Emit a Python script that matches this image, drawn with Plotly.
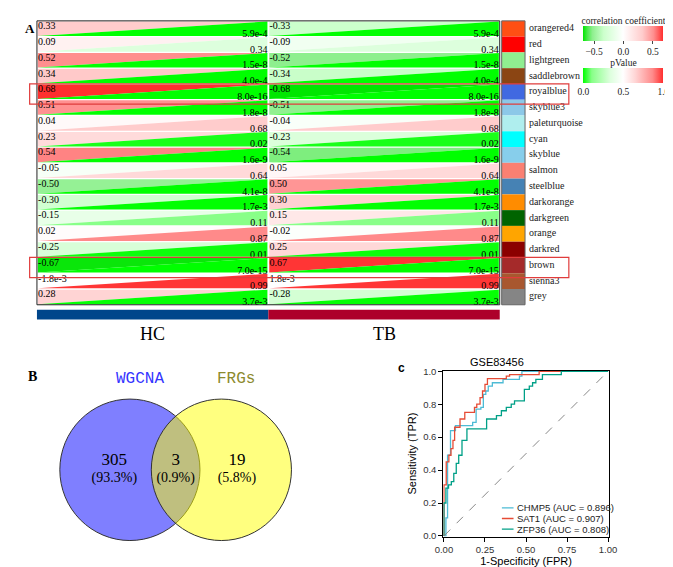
import plotly.graph_objects as go

W, H = 673, 567
SERIF = "Liberation Serif"
SANS = "Liberation Sans"
MONO = "Liberation Mono"

# ---- panel A: module / trait correlation ----
modules = ["orangered4", "red", "lightgreen", "saddlebrown", "royalblue", "skyblue3",
           "paleturquoise", "cyan", "skyblue", "salmon", "steelblue", "darkorange",
           "darkgreen", "orange", "darkred", "brown", "sienna3", "grey"]
module_colors = ["#ff4f14", "#ff0000", "#90ee90", "#8b4513", "#4169e1", "#8cc8e8",
                 "#afeeee", "#00ffff", "#87ceeb", "#fa8072", "#4682b4", "#ff8c00",
                 "#006400", "#ffa500", "#8b0000", "#a52a2a", "#a8572f", "#858585"]
groups = ["HC", "TB"]
group_colors = ["#00468b", "#ad002a"]
cor_hc = [0.33, 0.09, 0.52, 0.34, 0.68, 0.51, 0.04, 0.23, 0.54, -0.05, -0.50, -0.30,
          -0.15, 0.02, -0.25, -0.67, -1.8e-3, 0.28]
cor_tb = [-0.33, -0.09, -0.52, -0.34, -0.68, -0.51, -0.04, -0.23, -0.54, 0.05, 0.50, 0.30,
          0.15, -0.02, 0.25, 0.67, 1.8e-3, -0.28]
p_values = [5.9e-4, 0.34, 1.5e-8, 4.0e-4, 8.0e-16, 1.8e-8, 0.68, 0.02, 1.6e-9, 0.64,
            4.1e-8, 1.7e-3, 0.11, 0.87, 0.01, 7.0e-15, 0.99, 3.7e-3]
highlight = ["royalblue", "brown"]

# ---- panel B: venn ----
venn_sets = ["WGCNA", "FRGs"]
venn_set_colors = ["#3434ff", "#8c8a2e"]
venn_counts = [305, 3, 19]  # WGCNA only, shared, FRGs only

# ---- panel C: ROC ----
roc_names = ["CHMP5", "SAT1", "ZFP36"]
roc_auc = [0.896, 0.907, 0.808]
roc_colors = ["#4dbbd5", "#e64b35", "#00a087"]
chmp5_fpr = [0, 0.012, 0.022, 0.04, 0.07, 0.175, 0.196, 0.225, 0.24, 0.255, 0.27, 0.295,
             0.36, 0.46, 0.475, 1]
chmp5_tpr = [0, 0.11, 0.49, 0.64, 0.67, 0.69, 0.77, 0.78, 0.86, 0.88, 0.91, 0.93,
             0.95, 0.97, 1.0, 1.0]
sat1_fpr = [0, 0, 0.014, 0.03, 0.043, 0.055, 0.065, 0.098, 0.127, 0.186, 0.2, 0.22,
            0.235, 0.25, 0.265, 0.38, 0.4, 0.58, 1]
sat1_tpr = [0, 0.31, 0.45, 0.49, 0.53, 0.58, 0.66, 0.71, 0.75, 0.78, 0.8, 0.84,
            0.88, 0.92, 0.955, 0.97, 0.98, 1.0, 1.0]
zfp36_fpr = [0, 0, 0.012, 0.028, 0.045, 0.06, 0.075, 0.09, 0.11, 0.14, 0.26, 0.32, 0.35,
             0.38, 0.41, 0.43, 0.49, 0.52, 0.54, 0.56, 0.6, 0.715, 1]
zfp36_tpr = [0, 0.2, 0.29, 0.31, 0.33, 0.38, 0.44, 0.49, 0.58, 0.65, 0.71, 0.73, 0.76,
             0.78, 0.8, 0.82, 0.89, 0.91, 0.93, 0.95, 0.98, 1.0, 1.0]
roc_fpr = [chmp5_fpr, sat1_fpr, zfp36_fpr]
roc_tpr = [chmp5_tpr, sat1_tpr, zfp36_tpr]

# colour ramps (green - white - red)
CMIN, CMAX = -0.68, 0.68
cor_stops = [(-0.68, "#00e600"), (-0.6, "#50ea50"), (-0.52, "#8eef8e"), (-0.33, "#ccffcc"),
             (0, "#ffffff"), (0.33, "#ffcccc"), (0.52, "#ff8e8e"), (0.6, "#ff6060"),
             (0.68, "#ff2f2f")]
cor_scale = [[(v - CMIN) / (CMAX - CMIN), c] for v, c in cor_stops]
p_scale = [[0, "#00ff00"], [0.11, "#88ff88"], [0.34, "#ddffdd"], [0.5, "#ffffff"],
           [0.65, "#ffd6d6"], [0.87, "#ff8a8a"], [1.0, "#ff2f2f"]]


def px(x):
    return x / W


def py(y):
    return 1 - y / H


def hex_rgb(h):
    return tuple(int(h[k:k + 2], 16) for k in (1, 3, 5))


def ramp(scale, t):
    t = min(max(t, 0), 1)
    for (t0, c0), (t1, c1) in zip(scale[:-1], scale[1:]):
        if t <= t1:
            f = 0 if t1 == t0 else (t - t0) / (t1 - t0)
            a, b = hex_rgb(c0), hex_rgb(c1)
            return "rgb(%d,%d,%d)" % tuple(round(a[k] + f * (b[k] - a[k])) for k in range(3))
    return scale[-1][1]


def fmt_num(v):
    if v != 0 and abs(v) < 0.01:
        m, e = f"{v:.1e}".split("e")
        return f"{m}e{int(e)}"
    return f"{v:.2f}"


# panel A pixel geometry: one group column = 237.75 px, one row = 16.056 px
COLW, ROWH, X0, Y0 = 237.75, 16.056, 20.5, 8
n = len(modules)

fig = go.Figure()

gx, gy = 0.004, 0.04
for j, cors in enumerate([cor_hc, cor_tb]):
    for i, (r, p) in enumerate(zip(cors, p_values)):
        x0, x1 = j + gx, j + 1 - gx
        y0, y1 = i + gy, i + 1 - gy
        fig.add_trace(go.Scatter(x=[x0, x1, x0, x0], y=[y0, y0, y1, y0], mode="lines",
                                 fill="toself", fillcolor=ramp(cor_scale, (r - CMIN) / (CMAX - CMIN)),
                                 line=dict(width=0), hoverinfo="skip", showlegend=False))
        fig.add_trace(go.Scatter(x=[x0, x1, x1, x0], y=[y1, y0, y1, y1], mode="lines",
                                 fill="toself", fillcolor=ramp(p_scale, p),
                                 line=dict(width=0), hoverinfo="skip", showlegend=False))
    fig.add_trace(go.Scatter(x=[j + 0.005] * n, y=[i + 0.37 for i in range(n)],
                             text=[fmt_num(v) for v in cors], mode="text",
                             textposition="middle right",
                             textfont=dict(family=SERIF, size=10, color="black"),
                             hoverinfo="skip", showlegend=False))
    fig.add_trace(go.Scatter(x=[j + 0.996] * n, y=[i + 0.86 for i in range(n)],
                             text=[fmt_num(p) for p in p_values], mode="text",
                             textposition="middle left",
                             textfont=dict(family=SERIF, size=10, color="black"),
                             hoverinfo="skip", showlegend=False))
    # group bar under the heatmap
    fig.add_trace(go.Scatter(x=[j, j + 1, j + 1, j, j], y=[n + 0.31, n + 0.31, n + 0.93, n + 0.93, n + 0.31],
                             mode="lines", fill="toself", fillcolor=group_colors[j],
                             line=dict(width=0), hoverinfo="skip", showlegend=False))
    fig.add_annotation(x=j + 0.5, y=n + 1.87, xref="x", yref="y", text=groups[j],
                       showarrow=False, font=dict(family=SERIF, size=18, color="black"))

# module colour column
mx0, mx1 = (498 - X0) / COLW, (522 - X0) / COLW
for i, (m, c) in enumerate(zip(modules, module_colors)):
    fig.add_trace(go.Scatter(x=[mx0, mx1, mx1, mx0, mx0], y=[i, i, i + 1, i + 1, i],
                             mode="lines", fill="toself", fillcolor=c, line=dict(width=0),
                             hoverinfo="skip", showlegend=False))
fig.add_trace(go.Scatter(x=[(526 - X0) / COLW] * n, y=[i + 0.5 for i in range(n)], text=modules,
                         mode="text", textposition="middle right",
                         textfont=dict(family=SERIF, size=10, color="#222"),
                         hoverinfo="skip", showlegend=False))
fig.add_shape(type="rect", xref="x", yref="y", x0=0, x1=2, y0=0, y1=n,
              line=dict(color="#222", width=1))
fig.add_shape(type="rect", xref="x", yref="y", x0=mx0, x1=mx1, y0=0, y1=n,
              line=dict(color="#666", width=1))
for name in highlight:
    i = modules.index(name)
    fig.add_shape(type="rect", xref="x", yref="y", x0=(13 - X0) / COLW, x1=(567 - X0) / COLW,
                  y0=i + 0.0, y1=i + 1.28, line=dict(color="#e03c3c", width=1.2))

# colour legends
cb_common = dict(orientation="h", x=px(582), xanchor="left", yanchor="top",
                 len=80, lenmode="pixels", thickness=15, thicknessmode="pixels",
                 xpad=0, ypad=0, outlinewidth=0,
                 tickfont=dict(family=SERIF, size=9.5, color="#222"))
fig.add_trace(go.Scatter(
    x=[None], y=[None], mode="markers", hoverinfo="skip", showlegend=False,
    marker=dict(color=[0], cmin=CMIN, cmax=CMAX, colorscale=cor_scale, showscale=True,
                colorbar=dict(cb_common, y=py(3),
                              title=dict(text="correlation coefficient", side="top",
                                         font=dict(family=SERIF, size=9.5, color="#222")),
                              tickvals=[-0.5, 0, 0.5], tickformat=".1f", ticks="outside",
                              ticklen=3, tickcolor="#444"))))
fig.add_trace(go.Scatter(
    x=[None], y=[None], mode="markers", hoverinfo="skip", showlegend=False,
    marker=dict(color=[0], cmin=0, cmax=1, colorscale=p_scale, showscale=True,
                colorbar=dict(cb_common, y=py(46),
                              title=dict(text="pValue", side="top",
                                         font=dict(family=SERIF, size=9.5, color="#222")),
                              tickvals=[0, 0.5, 1], tickformat=".1f", ticks=""))))

# ---- panel B: venn ----
circles = [(116, 465), (210, 465)]
fills = ["rgba(0,0,255,0.5)", "rgba(255,255,0,0.5)"]
for (cx, cy), fc in zip(circles, fills):
    fig.add_shape(type="circle", xref="x2", yref="y2", x0=cx - 72, x1=cx + 72,
                  y0=cy - 72, y1=cy + 72, fillcolor=fc, layer="below",
                  line=dict(color="#333", width=1))
total = sum(venn_counts)
region_x = [100, 163, 226]
fig.add_trace(go.Scatter(x=region_x, y=[456] * 3, xaxis="x2", yaxis="y2", mode="text",
                         text=[str(c) for c in venn_counts],
                         textfont=dict(family=SERIF, size=17, color="black"),
                         hoverinfo="skip", showlegend=False))
fig.add_trace(go.Scatter(x=region_x, y=[474] * 3, xaxis="x2", yaxis="y2", mode="text",
                         text=[f"({c / total * 100:.1f}%)" for c in venn_counts],
                         textfont=dict(family=SERIF, size=14, color="black"),
                         hoverinfo="skip", showlegend=False))
for name, col, xx in zip(venn_sets, venn_set_colors, [100, 225]):
    fig.add_annotation(x=px(xx), y=py(373), xref="paper", yref="paper", text=name,
                       showarrow=False, font=dict(family=MONO, size=16, color=col))

# ---- panel C: ROC ----
fig.add_shape(type="line", xref="x3", yref="y3", x0=0, y0=0, x1=1, y1=1,
              line=dict(color="#888", width=1, dash="dash"))
for name, f, t, c in zip(roc_names, roc_fpr, roc_tpr, roc_colors):
    fig.add_trace(go.Scatter(x=f, y=t, xaxis="x3", yaxis="y3", mode="lines",
                             line=dict(color=c, width=1.3, shape="hv"), name=name,
                             showlegend=False))
for k, (name, auc, c) in enumerate(zip(roc_names, roc_auc, roc_colors)):
    yy = 0.171 - k * 0.065
    fig.add_shape(type="line", xref="x3", yref="y3", x0=0.353, x1=0.424, y0=yy, y1=yy,
                  line=dict(color=c, width=1.3))
    fig.add_annotation(x=0.435, y=yy, xref="x3", yref="y3", xanchor="left", showarrow=False,
                       text=f"{name} (AUC = {auc:.3f})",
                       font=dict(family=SANS, size=9.5, color="#222"))

roc_axis = dict(range=[-0.004, 1.004], showline=True, mirror=True, linecolor="black",
                linewidth=1, ticks="outside", ticklen=4, tickcolor="black", showgrid=False,
                zeroline=False, tickfont=dict(family=SANS, size=9.5, color="#333"))

fig.add_annotation(x=px(6), y=py(6), xref="paper", yref="paper", text="<b>A</b>",
                   showarrow=False, font=dict(family=SERIF, size=13, color="black"))
fig.add_annotation(x=px(9), y=py(370), xref="paper", yref="paper", text="<b>B</b>",
                   showarrow=False, font=dict(family=SERIF, size=14, color="black"))
fig.add_annotation(x=px(395), y=py(361), xref="paper", yref="paper", text="<b>c</b>",
                   showarrow=False, font=dict(family=SANS, size=12, color="black"))
fig.add_annotation(x=px(523), y=py(355), xref="paper", yref="paper", text="GSE83456",
                   showarrow=False, font=dict(family=SANS, size=11, color="black"))

fig.update_layout(
    width=W, height=H, margin=dict(l=0, r=0, t=0, b=0),
    plot_bgcolor="white", paper_bgcolor="white", showlegend=False,
    xaxis=dict(domain=[0, 1], range=[-X0 / COLW, (W - X0) / COLW], visible=False),
    yaxis=dict(domain=[py(340), 1], range=[(340 - Y0) / ROWH, -Y0 / ROWH], visible=False),
    xaxis2=dict(domain=[0, px(330)], range=[0, 330], visible=False),
    yaxis2=dict(domain=[0, py(340)], range=[567, 340], visible=False),
    xaxis3=dict(roc_axis, domain=[px(438), px(608)], anchor="y3",
                tickvals=[0, 0.25, 0.5, 0.75, 1], tickformat=".2f",
                title=dict(text="1-Specificity (FPR)", standoff=0,
                           font=dict(family=SANS, size=11, color="black"))),
    yaxis3=dict(roc_axis, domain=[py(533), py(364)], anchor="x3",
                tickvals=[0, 0.2, 0.4, 0.6, 0.8, 1], tickformat=".1f",
                title=dict(text="Sensitivity (TPR)", standoff=4,
                           font=dict(family=SANS, size=11, color="black"))),
)

fig.write_html("out.html")
